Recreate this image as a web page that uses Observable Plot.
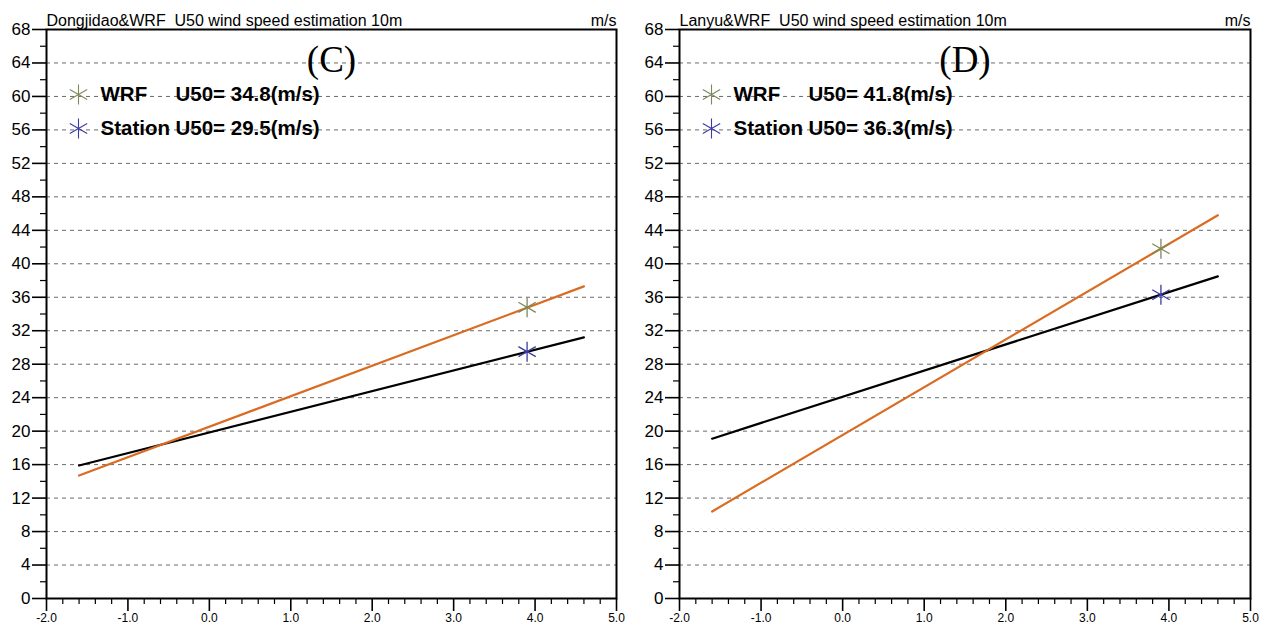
<!DOCTYPE html>
<html>
<head>
<meta charset="utf-8">
<script src="https://cdn.jsdelivr.net/npm/d3@7"></script>
<script src="https://cdn.jsdelivr.net/npm/@observablehq/plot@0.6"></script>
<style>
  html, body { margin: 0; padding: 0; background: #fff; }
  #wrap { display: flex; width: 1269px; height: 633px; font-family: "Liberation Sans", Arial, Helvetica, sans-serif; }
  svg { display: block; }
</style>
</head>
<body>
<div id="wrap"></div>
<script>
// ---------- data ----------
const xTickValues = [-2, -1, 0, 1, 2, 3, 4, 5];
const yTickValues = [0, 4, 8, 12, 16, 20, 24, 28, 32, 36, 40, 44, 48, 52, 56, 60, 64, 68];
const seriesNames = ["WRF", "Station"];
const seriesColors = ["#7b8a5c", "#3b3ba6"];
const fitX = [-1.6, 4.6];               // reduced variate range of the fitted lines
const u50X = 3.902;                     // reduced variate of the 50-year return period

const panelTitles = ["Dongjidao&WRF  U50 wind speed estimation 10m", "Lanyu&WRF  U50 wind speed estimation 10m"];
const panelLabels = ["(C)", "(D)"];
const unitLabel = "m/s";

const leftWrfFit = [14.7, 37.3];
const leftStationFit = [15.9, 31.2];
const leftU50 = [34.8, 29.5];

const rightWrfFit = [10.4, 45.8];
const rightStationFit = [19.1, 38.5];
const rightU50 = [41.8, 36.3];

// ---------- drawing ----------
const xMinor = d3.range(-2, 5.0001, 0.2).map(d => Math.round(d * 10) / 10).filter(d => !Number.isInteger(d));
const yMinor = d3.range(2, 68, 4);

function panel({width, marginLeft, marginRight, title, label, wrfFit, stationFit, u50}) {
  const wrfLine = fitX.map((x, i) => ({x, y: wrfFit[i]}));
  const stnLine = fitX.map((x, i) => ({x, y: stationFit[i]}));
  const pts = seriesNames.map((name, i) => ({name, x: u50X, y: u50[i], color: seriesColors[i]}));
  const legendRows = seriesNames.map((name, i) => ({name, text: `U50= ${u50[i].toFixed(1)}(m/s)`, color: seriesColors[i], row: i}));
  const rowH = 34, row0 = 65;
  return Plot.plot({
    width, height: 633,
    marginLeft, marginRight, marginTop: 29, marginBottom: 35,
    x: {domain: [-2, 5], label: null},
    y: {domain: [0, 68], label: null},
    style: {fontFamily: '"Liberation Sans", Arial, Helvetica, sans-serif', color: "black", background: "white"},
    marks: [
      Plot.gridY(yTickValues.filter(d => d > 0 && d < 68), {stroke: "#6a6a6a", strokeOpacity: 1, strokeDasharray: "4,4", strokeWidth: 1}),
      Plot.axisY(yTickValues, {tickSize: 14, tickPadding: 2, fontSize: 17, strokeWidth: 1.6, tickFormat: d => String(d), label: null}),
      Plot.axisY(yMinor, {tickSize: 6, strokeWidth: 1.2, tickFormat: () => "", label: null}),
      Plot.axisX(xTickValues, {tickSize: 13, tickPadding: 2, fontSize: 12, strokeWidth: 1.6, tickFormat: d => d.toFixed(1), label: null}),
      Plot.axisX(xMinor, {tickSize: 6, strokeWidth: 1.2, tickFormat: () => "", label: null}),
      Plot.line(stnLine, {x: "x", y: "y", stroke: "black", strokeWidth: 2.2}),
      Plot.line(wrfLine, {x: "x", y: "y", stroke: "#d96c22", strokeWidth: 2.2}),
      Plot.dot(pts, {x: "x", y: "y", symbol: "asterisk", r: 9.5, stroke: "color", strokeWidth: 1.3}),
      // legend
      ...legendRows.map(d => Plot.dot([d], {frameAnchor: "top-left", dx: 32, dy: row0 + d.row * rowH, symbol: "asterisk", r: 9.5, stroke: "color", strokeWidth: 1.1})),
      ...legendRows.map(d => Plot.text([d.name], {frameAnchor: "top-left", dx: 54, dy: row0 + d.row * rowH, textAnchor: "start", lineAnchor: "middle", fontSize: 20.5, fontWeight: "bold", fill: "black"})),
      ...legendRows.map(d => Plot.text([d.text], {frameAnchor: "top-left", dx: 129, dy: row0 + d.row * rowH, textAnchor: "start", lineAnchor: "middle", fontSize: 20.5, fontWeight: "bold", fill: "black"})),
      // titles
      Plot.text([title], {frameAnchor: "top-left", dy: -4, textAnchor: "start", lineAnchor: "bottom", fontSize: 16, fill: "black"}),
      Plot.text([unitLabel], {frameAnchor: "top-right", dy: -4, textAnchor: "end", lineAnchor: "bottom", fontSize: 16, fill: "black"}),
      Plot.text([label], {frameAnchor: "top", dy: 31, lineAnchor: "middle", fontSize: 37, fontFamily: '"Liberation Serif", "Times New Roman", serif', fill: "black"}),
      Plot.frame({stroke: "black", strokeWidth: 2})
    ]
  });
}

const wrap = document.getElementById("wrap");
wrap.append(panel({width: 634, marginLeft: 46, marginRight: 18, title: panelTitles[0], label: panelLabels[0], wrfFit: leftWrfFit, stationFit: leftStationFit, u50: leftU50}));
wrap.append(panel({width: 635, marginLeft: 45, marginRight: 19, title: panelTitles[1], label: panelLabels[1], wrfFit: rightWrfFit, stationFit: rightStationFit, u50: rightU50}));
</script>
</body>
</html>
